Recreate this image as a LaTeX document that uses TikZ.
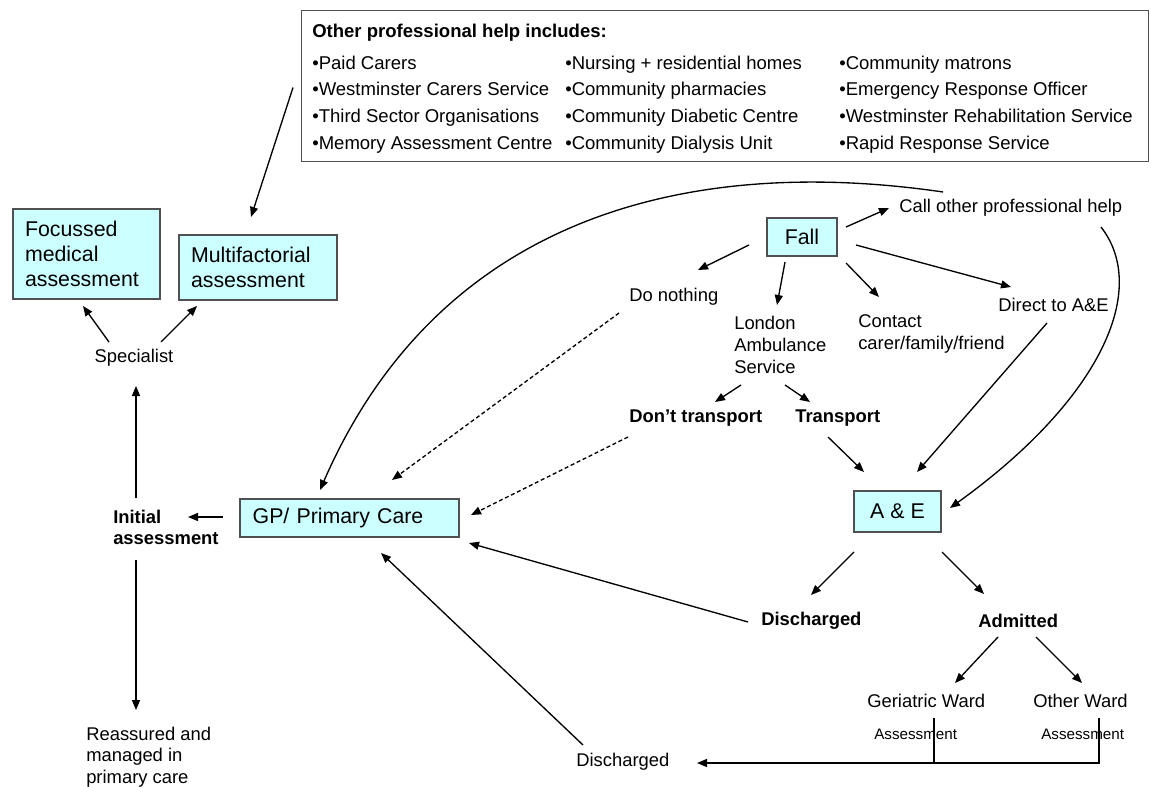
\documentclass[tikz,border=0pt]{standalone}
\usepackage{fontspec}
\setmainfont{Liberation Sans}
\usetikzlibrary{arrows.meta,calc}
\definecolor{boxfill}{RGB}{204,255,255}
\definecolor{boxline}{RGB}{80,80,80}
\begin{document}
\begin{tikzpicture}[x=0.75pt,y=-0.75pt,
  txt/.style={inner sep=0pt, anchor=west, align=left, font=\fontsize{13.8pt}{16.5pt}\selectfont},
  btxt/.style={txt, font=\fontsize{13.8pt}{16pt}\selectfont\bfseries},
  stxt/.style={txt, font=\fontsize{11.4pt}{13pt}\selectfont},
  htxt/.style={txt, font=\fontsize{13.9pt}{20pt}\selectfont},
  box/.style={draw=boxline, fill=boxfill, line width=0.8pt, inner xsep=9pt, inner ysep=0pt, font=\fontsize{16pt}{18.75pt}\selectfont, align=left},
  arr/.style={-{Triangle[length=7.5pt,width=6pt]}, line width=1pt},
  plain/.style={line width=1pt},
  dsh/.style={arr, dash pattern=on 3pt off 2pt}
]
\useasboundingbox (0,0) rectangle (1151,787);
\fill[white] (0,0) rectangle (1151,787);

% top box
\node[draw=boxline, line width=0.8pt, anchor=north west, minimum width=635.25pt, minimum height=113.25pt, inner sep=0pt] (help) at (301,10) {};
\node[btxt, font=\fontsize{13.9pt}{16pt}\selectfont\bfseries] (helptitle) at (312,33) {Other professional help includes:};
\node[htxt] (col1) at (312,104.5) {•Paid Carers\\•Westminster Carers Service\\•Third Sector Organisations\\•Memory Assessment Centre};
\node[htxt] (col2) at (565,104.5) {•Nursing + residential homes\\•Community pharmacies\\•Community Diabetic Centre\\•Community Dialysis Unit};
\node[htxt] (col3) at (839,104.5) {•Community matrons\\•Emergency Response Officer\\•Westminster Rehabilitation Service\\•Rapid Response Service};

% left boxes
\node[box, minimum width=110.25pt, minimum height=67.5pt, text width=92.25pt] (foc) at (86.5,254) {Focussed\\medical\\assessment};
\node[box, minimum width=118.5pt, minimum height=48.75pt, text width=100.5pt] (multi) at (258,267.5) {Multifactorial\\assessment};
\node[txt, anchor=center] (spec) at (134,358) {Specialist};
\node[btxt] (initial) at (113,527.5) {Initial\\assessment};
\node[txt, font=\fontsize{13.8pt}{16pt}\selectfont] (reass) at (86,757) {Reassured and\\managed in\\primary care};

% main boxes
\node[box, minimum width=164.25pt, minimum height=28.5pt, text width=145.25pt] (gp) at (349.5,518) {GP/ Primary Care};
\node[box, align=center, inner xsep=0pt, minimum width=52.5pt, minimum height=28.5pt] (fall) at (802,237) {Fall};
\node[box, align=center, inner xsep=0pt, minimum width=65.25pt, minimum height=30.75pt] (aande) at (897.5,511.5) {A \& E};

% text labels
\node[txt] (call) at (899,208) {Call other professional help};
\node[txt] (donothing) at (629,297) {Do nothing};
\node[txt] (london) at (734,345) {London\\Ambulance\\Service};
\node[txt] (contact) at (858,334) {Contact\\carer/family/friend};
\node[txt] (direct) at (998,305) {Direct to A\&E};
\node[btxt] (dont) at (629,418) {Don’t transport};
\node[btxt] (transport) at (795,418) {Transport};
\node[btxt] (dis1) at (761,621) {Discharged};
\node[btxt] (admitted) at (978,621) {Admitted};
\node[txt] (geri) at (867,701) {Geriatric Ward};
\node[txt] (other) at (1033,701) {Other Ward};
\node[stxt] (ass1) at (874,734) {Assessment};
\node[stxt] (ass2) at (1041,734) {Assessment};
\node[txt] (dis2) at (576,762) {Discharged};

% connectors
\draw[arr] ($(help.west)+(-8,1.5)$) -- ($(multi)+(-7,-50.5)$);
\draw[arr] ($(spec)+(-25,-16)$) -- ($(foc)+(-3.5,52)$);
\draw[arr] ($(spec)+(27,-16)$) -- ($(multi)+(-61,38.5)$);
\draw[arr] ($(initial.west)+(23,-29.5)$) -- ($(spec)+(2,28)$);
\draw[arr] ($(initial.west)+(23,32.5)$) -- ($(reass.west)+(50,-47)$);
\draw[arr] ($(gp)+(-126.5,-1)$) -- ($(initial.west)+(75,-10.5)$);

\draw[arr] ($(call.west)+(44,-16)$) .. controls (690,155) and (440,215) .. ($(gp)+(-29.5,-28)$);
\draw[arr] ($(call.west)+(202,19)$) .. controls (1150,290) and (1100,400) .. ($(aande)+(52.5,-3.5)$);

\draw[arr] ($(fall)+(44,-10)$) -- ($(call.west)+(-10,0)$);
\draw[arr] ($(fall)+(-53,8)$) -- ($(donothing.west)+(69,-27)$);
\draw[arr] ($(fall)+(-17,25)$) -- ($(london.west)+(43,-40)$);
\draw[arr] ($(fall)+(44,26)$) -- ($(contact.west)+(21,-37)$);
\draw[arr] ($(fall)+(54,8)$) -- ($(direct.west)+(13,-18)$);
\draw[arr] ($(london.west)+(7,40)$) -- ($(dont.west)+(86,-16)$);
\draw[arr] ($(london.west)+(51,40)$) -- ($(transport.west)+(15,-16)$);
\draw[arr] ($(transport.west)+(33,19)$) -- ($(aande)+(-33.5,-39.5)$);
\draw[arr] ($(direct.west)+(49,18)$) -- ($(aande)+(19.5,-39.5)$);
\draw[dsh] ($(donothing.west)+(-10,16)$) -- ($(gp)+(42.5,-38)$);
\draw[dsh] ($(dont.west)+(-1,19)$) -- ($(gp)+(121.5,-3)$);
\draw[arr] ($(aande)+(-43.5,40.5)$) -- ($(dis1.west)+(50,-26)$);
\draw[arr] ($(aande)+(44.5,40.5)$) -- ($(admitted.west)+(6,-27)$);
\draw[arr] ($(dis1.west)+(-13,1)$) -- ($(gp)+(119.5,25)$);
\draw[arr] ($(admitted.west)+(20,16)$) -- ($(geri.west)+(88,-18)$);
\draw[arr] ($(admitted.west)+(58,16)$) -- ($(other.west)+(49,-18)$);
\draw[plain] ($(ass1.west)+(60,-16)$) -- ($(ass1.west)+(60,29)$);
\draw[arr] ($(ass2.west)+(58,-16)$) |- ($(dis2.west)+(121,1)$);
\draw[arr] ($(dis2.west)+(7,-17)$) -- ($(gp)+(31.5,35)$);
\end{tikzpicture}
\end{document}
